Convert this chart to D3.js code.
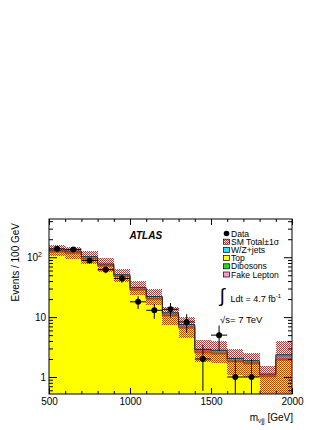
<!DOCTYPE html>
<html>
<head>
<meta charset="utf-8">
<script src="https://cdn.jsdelivr.net/npm/d3@7"></script>
<style>
body { margin:0; background:#fff; }
svg { display:block; }
text { font-family:"Liberation Sans", Arial, sans-serif; }
</style>
</head>
<body>
<svg id="chart" width="332" height="430"></svg>
<script>

// bins of 100 GeV in m_lvjj
var binStart = [500,600,700,800,900,1000,1100,1200,1300,1400,1500,1600,1700,1800,1900];
var binWidth = 100;

// stacked backgrounds, bottom to top
var topBkg   = [122,116,93,71,47,28,19.8,10.4,6.5,2.5,2.4,1.8,1.65,1.0,1.9];
var dibosons = [1.5,1.5,1.2,1.0,0.7,0.5,0.4,0.3,0.2,0.1,0.1,0.05,0.05,0.03,0.05];
var fakeLep  = [1.0,1.0,0.8,0.7,0.5,0.4,0.3,0.2,0.2,0.1,0.1,0.05,0.05,0.03,0.05];
var wzJets   = [7.5,8.5,7,4.3,2.8,2.1,1.5,0.9,0.6,0.2,0.2,0.15,0.12,0.06,0.35];

// SM total +-1 sigma band
var bandHi = [160,150,127,96,63,40,29,14.7,10.2,4.1,4.0,2.9,2.55,1.5,4.0];
var bandLo = [106,94,77,57,38,23.5,16,7.5,4.5,1.75,1.7,1.1,1.0,0.3,0.3];

// data
var dataVal = [138,135,88,62,44,18,13,13.5,8.3,2,5,1,1,0,0];

var yMajor = [1,10,100];
var yMinor = [0.6,0.7,0.8,0.9,2,3,4,5,6,7,8,9,20,30,40,50,60,70,80,90,200,300,400];
var xMajor = [500,1000,1500,2000];
var xMinor = [600,700,800,900,1100,1200,1300,1400,1600,1700,1800,1900];

var svg = d3.select("#chart");
var x = d3.scaleLinear().domain([500,2000]).range([49,292]);
var y = d3.scaleLog().domain([0.52,435]).range([394,219]);
var yBottom = y.range()[0];

var defs = svg.append("defs");
defs.append("clipPath").attr("id","plotclip")
  .append("rect").attr("x",49).attr("y",219).attr("width",243).attr("height",175);

var pat = defs.append("pattern").attr("id","hatch")
  .attr("patternUnits","userSpaceOnUse").attr("width",2).attr("height",2);
pat.append("rect").attr("x",0).attr("y",0).attr("width",1).attr("height",1).attr("fill","#ff1a1a");
pat.append("rect").attr("x",1).attr("y",1).attr("width",1).attr("height",1).attr("fill","#ff1a1a");

var g = svg.append("g").attr("clip-path","url(#plotclip)");

var layers = [
  { vals: topBkg,   color: "#ffff00" },
  { vals: dibosons, color: "#22dd22" },
  { vals: fakeLep,  color: "#ff99cc" },
  { vals: wzJets,   color: "#33ddff" }
];

var bx0 = function(d) { return x(d); };
var bw = function(d) { return x(d + binWidth) - x(d); };
var ypos = function(v) { return v > 0 ? y(v) : yBottom; };

// step outline through the bin tops
var stepLine = function(vals) {
  var pts = [];
  binStart.forEach(function(d,i) {
    pts.push([x(d), ypos(vals[i])]);
    pts.push([x(d + binWidth), ypos(vals[i])]);
  });
  return d3.line()(pts);
};

var cum = binStart.map(function() { return 0; });
var tops = [];
layers.forEach(function(l) {
  var lower = cum.slice();
  var upper = cum.map(function(c,i) { return c + l.vals[i]; });
  g.selectAll(null).data(binStart).enter().append("rect")
    .attr("x", bx0)
    .attr("width", bw)
    .attr("y", function(d,i) { return y(upper[i]); })
    .attr("height", function(d,i) { return ypos(lower[i]) - y(upper[i]); })
    .attr("fill", l.color)
    .attr("shape-rendering","crispEdges");
  tops.push(upper);
  cum = upper;
});

tops.slice(0,3).forEach(function(t) {
  g.append("path").attr("d", stepLine(t))
    .attr("fill","none").attr("stroke","#555").attr("stroke-width",0.6);
});

// uncertainty band
g.selectAll(null).data(binStart).enter().append("rect")
  .attr("x", bx0)
  .attr("width", bw)
  .attr("y", function(d,i) { return y(bandHi[i]); })
  .attr("height", function(d,i) { return ypos(Math.max(bandLo[i], 0.5)) - y(bandHi[i]); })
  .attr("fill","url(#hatch)")
  .attr("shape-rendering","crispEdges");

// SM total line
g.append("path").attr("d", stepLine(cum))
  .attr("fill","none").attr("stroke","#222").attr("stroke-width",1);

// data with errors
var pts = [];
binStart.forEach(function(d,i) { if (dataVal[i] > 0) pts.push({ x: d + binWidth/2, v: dataVal[i] }); });

var dg = g.selectAll(null).data(pts).enter().append("g");
dg.append("line")
  .attr("x1", function(d) { return x(d.x); }).attr("x2", function(d) { return x(d.x); })
  .attr("y1", function(d) { return y(d.v + Math.sqrt(d.v)); })
  .attr("y2", function(d) { return ypos(d.v - Math.sqrt(d.v)); })
  .attr("stroke","#000").attr("stroke-width",1);
dg.append("line")
  .attr("x1", function(d) { return x(d.x - binWidth/2); }).attr("x2", function(d) { return x(d.x + binWidth/2); })
  .attr("y1", function(d) { return y(d.v); }).attr("y2", function(d) { return y(d.v); })
  .attr("stroke","#000").attr("stroke-width",1);
dg.append("circle")
  .attr("cx", function(d) { return x(d.x); })
  .attr("cy", function(d) { return y(d.v); })
  .attr("r", 3).attr("fill","#000");

// axes, ROOT style ticks pointing inside
var axisStyle = function(sel) {
  sel.select(".domain").remove();
  sel.selectAll("line").attr("stroke","#000");
  sel.selectAll("text").attr("font-family","Liberation Sans, Arial, sans-serif").attr("font-size",10).attr("fill","#000");
};

svg.append("g").attr("transform","translate(49,0)")
  .call(d3.axisLeft(y).tickValues(yMajor).tickSize(-8).tickPadding(3)
    .tickFormat(function(d) { return d === 100 ? "10" : d; }))
  .call(axisStyle)
  .selectAll("text").each(function(d) {
    if (d === 100) {
      d3.select(this).attr("dx", -4);
      d3.select(this).append("tspan").attr("dy",-4).attr("font-size",7).text("2");
    }
  });
svg.append("g").attr("transform","translate(49,0)")
  .call(d3.axisLeft(y).tickValues(yMinor).tickSize(-4).tickFormat(""))
  .call(axisStyle);
svg.append("g").attr("transform","translate(292,0)")
  .call(d3.axisRight(y).tickValues(yMajor).tickSize(-8).tickFormat(""))
  .call(axisStyle);
svg.append("g").attr("transform","translate(292,0)")
  .call(d3.axisRight(y).tickValues(yMinor).tickSize(-4).tickFormat(""))
  .call(axisStyle);

svg.append("g").attr("transform","translate(0,394)")
  .call(d3.axisBottom(x).tickValues(xMajor).tickSize(-6).tickPadding(4).tickFormat(d3.format("d")))
  .call(axisStyle);
svg.append("g").attr("transform","translate(0,394)")
  .call(d3.axisBottom(x).tickValues(xMinor).tickSize(-3).tickFormat(""))
  .call(axisStyle);
svg.append("g").attr("transform","translate(0,219)")
  .call(d3.axisTop(x).tickValues(xMajor).tickSize(-6).tickFormat(""))
  .call(axisStyle);
svg.append("g").attr("transform","translate(0,219)")
  .call(d3.axisTop(x).tickValues(xMinor).tickSize(-3).tickFormat(""))
  .call(axisStyle);

svg.append("rect").attr("x",49).attr("y",219).attr("width",243).attr("height",175)
  .attr("fill","none").attr("stroke","#000").attr("stroke-width",1);

// axis titles
svg.append("text").attr("transform","translate(18.5,223) rotate(-90)")
  .attr("text-anchor","end").attr("font-size",10).text("Events / 100 GeV");

var xt = svg.append("text").attr("x",293).attr("y",421).attr("text-anchor","end").attr("font-size",10);
xt.append("tspan").text("m");
xt.append("tspan").attr("dy",2).attr("font-size",7).text("νjj");
xt.append("tspan").attr("dy",-2).text(" [GeV]");

// labels
svg.append("text").attr("x",129.5).attr("y",239.3).attr("font-size",10)
  .attr("font-weight","bold").attr("font-style","italic").text("ATLAS");

// legend
var legendRows = [
  { label: "Data", type: "dot" },
  { label: "SM Total±1σ", type: "hatch" },
  { label: "W/Z+jets", type: "box", color: "#33ddff" },
  { label: "Top", type: "box", color: "#ffff00" },
  { label: "Dibosons", type: "box", color: "#22dd22" },
  { label: "Fake Lepton", type: "box", color: "#ff99cc" }
];
var lg = svg.append("g");
legendRows.forEach(function(r,i) {
  var cy = 233.5 + i * 8.2;
  if (r.type === "dot") {
    lg.append("circle").attr("cx",226.5).attr("cy",cy).attr("r",2.8).attr("fill","#000");
  } else {
    lg.append("rect").attr("x",223.5).attr("y",cy - 2.5).attr("width",6).attr("height",5)
      .attr("fill", r.type === "hatch" ? "url(#hatch)" : r.color)
      .attr("stroke","#000").attr("stroke-width",0.7);
  }
  lg.append("text").attr("x",231).attr("y",cy + 3.1).attr("font-size",8.6).text(r.label);
});

svg.append("text").attr("x",219.5).attr("y",302).attr("font-size",19)
  .attr("font-family","DejaVu Serif, serif").text("∫");
var lum = svg.append("text").attr("x",230.5).attr("y",301.5).attr("font-size",9);
lum.append("tspan").text("Ldt = 4.7 fb");
lum.append("tspan").attr("dy",-4).attr("font-size",6).text("-1");

svg.append("text").attr("x",220).attr("y",323.3).attr("font-size",9.5).text("√s= 7 TeV");

</script>
</body>
</html>
